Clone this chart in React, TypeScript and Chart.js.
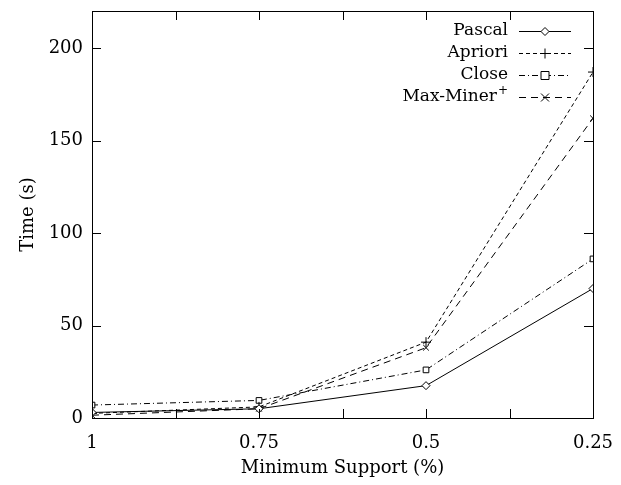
import React, { useEffect, useRef } from "react";
import { Chart, registerables } from "chart.js";
Chart.register(...registerables);

const supports = [1, 0.75, 0.5, 0.25];
const supportLabels = ["1", "0.75", "0.5", "0.25"];
const pascal = [3, 5, 17.5, 70];
const apriori = [2.5, 6, 41, 187];
const close = [7, 9.5, 26, 86];
const maxMiner = [1.5, 5, 38, 162];
const seriesNames = ["Pascal", "Apriori", "Close", "Max-Miner"];
const yTicks = [0, 50, 100, 150, 200];

const FONT = "DejaVu Serif";

const mk = (vals: number[]) => supports.map((s, i) => ({ x: s, y: vals[i] }));

function drawMarker(ctx: CanvasRenderingContext2D, style: string, x: number, y: number, r: number) {
  ctx.save();
  ctx.setLineDash([]);
  ctx.strokeStyle = "#000";
  ctx.fillStyle = "#fff";
  ctx.lineWidth = 1;
  ctx.beginPath();
  if (style === "rectRot") {
    ctx.moveTo(x, y - r); ctx.lineTo(x + r, y); ctx.lineTo(x, y + r); ctx.lineTo(x - r, y); ctx.closePath();
    ctx.fill(); ctx.stroke();
  } else if (style === "rect") {
    ctx.rect(x - r, y - r, 2 * r, 2 * r); ctx.fill(); ctx.stroke();
  } else if (style === "cross") {
    ctx.moveTo(x - r, y); ctx.lineTo(x + r, y); ctx.moveTo(x, y - r); ctx.lineTo(x, y + r); ctx.stroke();
  } else {
    ctx.moveTo(x - r, y - r); ctx.lineTo(x + r, y + r); ctx.moveTo(x + r, y - r); ctx.lineTo(x - r, y + r); ctx.stroke();
  }
  ctx.restore();
}

const frame = {
  id: "frame",
  afterDraw(chart: any) {
    const { ctx, chartArea: a, scales } = chart;
    const xs = scales.x, ys = scales.y;
    ctx.save();
    ctx.strokeStyle = "#000";
    ctx.lineWidth = 1;
    ctx.setLineDash([]);
    ctx.strokeRect(Math.round(a.left) + 0.5, Math.round(a.top) + 0.5, Math.round(a.right - a.left), Math.round(a.bottom - a.top));
    ctx.beginPath();
    for (let v = 0.25; v <= 1.0001; v += 0.125) {
      const px = Math.round(xs.getPixelForValue(v)) + 0.5;
      ctx.moveTo(px, a.bottom); ctx.lineTo(px, a.bottom - 9);
      ctx.moveTo(px, a.top); ctx.lineTo(px, a.top + 9);
    }
    for (const v of yTicks) {
      const py = Math.round(ys.getPixelForValue(v)) + 0.5;
      ctx.moveTo(a.left, py); ctx.lineTo(a.left + 9, py);
      ctx.moveTo(a.right, py); ctx.lineTo(a.right - 9, py);
    }
    ctx.stroke();

    const textRight = 508, lx0 = 519, lx1 = 571, rowY = [31, 53, 75, 97];
    chart.data.datasets.forEach((ds: any, i: number) => {
      const y = rowY[i];
      ctx.fillStyle = "#000";
      ctx.textBaseline = "middle";
      ctx.textAlign = "right";
      if (i === 3) {
        ctx.font = `12px '${FONT}'`;
        const pw = ctx.measureText("+").width;
        ctx.fillText("+", textRight, y - 6);
        ctx.font = `17px '${FONT}'`;
        ctx.fillText(seriesNames[i], textRight - pw - 1, y);
      } else {
        ctx.font = `17px '${FONT}'`;
        ctx.fillText(seriesNames[i], textRight, y);
      }
      ctx.beginPath();
      ctx.setLineDash(ds.borderDash || []);
      ctx.moveTo(lx0, y + 0.5); ctx.lineTo(lx1, y + 0.5);
      ctx.stroke();
      ctx.setLineDash([]);
      drawMarker(ctx, ds.pointStyle, (lx0 + lx1) / 2, y + 0.5, ds.pointRadius);
    });
    ctx.restore();
  },
};

export default function App() {
  const ref = useRef<HTMLCanvasElement>(null);
  useEffect(() => {
    document.body.style.margin = "0";
    const base = { borderColor: "#000", pointBorderColor: "#000", pointBackgroundColor: "#fff", borderWidth: 1, pointBorderWidth: 1, showLine: true, fill: false, tension: 0 };
    const chart = new Chart(ref.current!, {
      type: "scatter",
      data: {
        datasets: [
          { ...base, label: "Pascal", data: mk(pascal), pointStyle: "rectRot", pointRadius: 4, borderDash: [] },
          { ...base, label: "Apriori", data: mk(apriori), pointStyle: "cross", pointRadius: 5, borderDash: [4, 3] },
          { ...base, label: "Close", data: mk(close), pointStyle: "rect", pointRadius: 4, borderDash: [6, 3, 1, 3] },
          { ...base, label: "Max-Miner+", data: mk(maxMiner), pointStyle: "crossRot", pointRadius: 4, borderDash: [7, 5] },
        ] as any,
      },
      options: {
        animation: false,
        responsive: false,
        layout: { padding: { left: 0, right: 28, top: 11, bottom: 0 } },
        plugins: { legend: { display: false }, tooltip: { enabled: false } },
        scales: {
          x: {
            type: "linear", reverse: true, min: 0.25, max: 1,
            afterBuildTicks: (s: any) => { s.ticks = supports.map((v) => ({ value: v })); },
            afterFit: (s: any) => { s.height = 67; s.paddingLeft = 0; s.paddingRight = 0; },
            grid: { display: false, drawTicks: false },
            border: { display: false },
            ticks: {
              color: "#000", font: { family: FONT, size: 18 }, padding: 15,
              callback: (v: any) => supportLabels[supports.indexOf(Number(v))] ?? "",
            },
            title: { display: true, text: "Minimum Support (%)", color: "#000", font: { family: FONT, size: 18 }, padding: { top: 5, bottom: 6 } },
          },
          y: {
            type: "linear", min: 0, max: 220,
            afterBuildTicks: (s: any) => { s.ticks = yTicks.map((v) => ({ value: v })); },
            afterFit: (s: any) => { s.width = 92; s.paddingTop = 0; s.paddingBottom = 0; },
            grid: { display: false, drawTicks: false },
            border: { display: false },
            ticks: { color: "#000", font: { family: FONT, size: 18 }, padding: 9 },
            title: { display: true, text: "Time (s)", color: "#000", font: { family: FONT, size: 18 }, padding: { top: 18, bottom: 0 } },
          },
        },
      },
      plugins: [frame],
    });
    return () => chart.destroy();
  }, []);
  return <canvas ref={ref} width={621} height={485} style={{ display: "block" }} />;
}
